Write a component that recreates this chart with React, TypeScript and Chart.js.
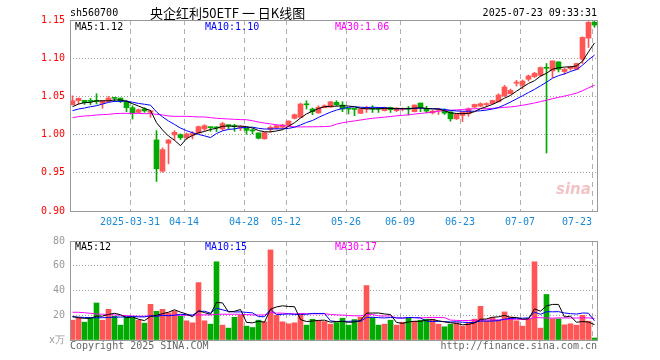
import React, { useEffect, useRef } from 'react';
import { Chart, registerables } from 'chart.js';

Chart.register(...registerables);

// ---------- data ----------
const opens = [
  1.0390, 1.0445, 1.0448, 1.0438, 1.0440, 1.0409, 1.0435, 1.0478, 1.0478, 1.0431,
  1.0352, 1.0291, 1.0335, 1.0291, 0.9930, 0.9521, 0.9887, 0.9996, 1.0000, 0.9961,
  0.9990, 1.0022, 1.0074, 1.0096, 1.0096, 1.0074, 1.0122, 1.0113, 1.0087, 1.0087,
  1.0052, 1.0022, 0.9944, 1.0066, 1.0087, 1.0096, 1.0122, 1.0213, 1.0226, 1.0394,
  1.0335, 1.0283, 1.0352, 1.0360, 1.0422, 1.0387, 1.0337, 1.0335, 1.0278, 1.0335,
  1.0337, 1.0337, 1.0313, 1.0357, 1.0313, 1.0330, 1.0337, 1.0300, 1.0413, 1.0338,
  1.0285, 1.0318, 1.0316, 1.0298, 1.0206, 1.0250, 1.0272, 1.0360, 1.0373, 1.0393,
  1.0404, 1.0430, 1.0504, 1.0535, 1.0673, 1.0645, 1.0724, 1.0759, 1.0776, 1.0872,
  1.0833, 1.0952, 1.0825, 1.0864, 1.0855, 1.0987, 1.1263, 1.1470,
];
const highs = [
  1.0508, 1.0480, 1.0450, 1.0474, 1.0535, 1.0448, 1.0500, 1.0480, 1.0480, 1.0448,
  1.0378, 1.0335, 1.0352, 1.0318, 1.0052, 0.9826, 0.9935, 1.0052, 1.0010, 1.0022,
  1.0040, 1.0113, 1.0130, 1.0100, 1.0104, 1.0160, 1.0126, 1.0135, 1.0117, 1.0090,
  1.0074, 1.0022, 1.0030, 1.0113, 1.0125, 1.0135, 1.0180, 1.0270, 1.0413, 1.0444,
  1.0348, 1.0378, 1.0390, 1.0435, 1.0444, 1.0430, 1.0337, 1.0337, 1.0340, 1.0370,
  1.0378, 1.0357, 1.0361, 1.0360, 1.0350, 1.0350, 1.0370, 1.0390, 1.0413, 1.0370,
  1.0320, 1.0342, 1.0338, 1.0300, 1.0275, 1.0300, 1.0350, 1.0400, 1.0417, 1.0417,
  1.0450, 1.0535, 1.0645, 1.0596, 1.0710, 1.0715, 1.0780, 1.0816, 1.0886, 1.0930,
  1.0965, 1.0955, 1.0868, 1.0895, 1.0935, 1.1280, 1.1480, 1.1500,
];
const lows = [
  1.0387, 1.0400, 1.0395, 1.0392, 1.0400, 1.0344, 1.0426, 1.0430, 1.0418, 1.0300,
  1.0204, 1.0280, 1.0291, 1.0227, 0.9387, 0.9508, 0.9617, 0.9930, 0.9935, 0.9939,
  0.9943, 1.0013, 1.0052, 1.0043, 1.0039, 1.0057, 1.0074, 1.0043, 1.0052, 1.0004,
  1.0009, 0.9943, 0.9940, 1.0030, 1.0070, 1.0080, 1.0109, 1.0205, 1.0222, 1.0335,
  1.0261, 1.0278, 1.0350, 1.0357, 1.0378, 1.0300, 1.0270, 1.0248, 1.0275, 1.0290,
  1.0290, 1.0290, 1.0309, 1.0290, 1.0300, 1.0310, 1.0257, 1.0296, 1.0300, 1.0285,
  1.0270, 1.0263, 1.0263, 1.0175, 1.0198, 1.0170, 1.0240, 1.0355, 1.0364, 1.0364,
  1.0400, 1.0426, 1.0500, 1.0530, 1.0636, 1.0600, 1.0700, 1.0746, 1.0759, 0.9759,
  1.0746, 1.0820, 1.0790, 1.0842, 1.0850, 1.0930, 1.1140, 1.1404,
];
const closes = [
  1.0443, 1.0475, 1.0420, 1.0435, 1.0435, 1.0444, 1.0478, 1.0474, 1.0435, 1.0352,
  1.0283, 1.0326, 1.0309, 1.0312, 0.9552, 0.9804, 0.9930, 1.0030, 0.9961, 1.0009,
  1.0015, 1.0104, 1.0117, 1.0091, 1.0087, 1.0144, 1.0117, 1.0105, 1.0104, 1.0057,
  1.0048, 0.9952, 1.0026, 1.0096, 1.0117, 1.0126, 1.0178, 1.0261, 1.0400, 1.0390,
  1.0300, 1.0357, 1.0378, 1.0430, 1.0392, 1.0335, 1.0333, 1.0330, 1.0335, 1.0357,
  1.0333, 1.0333, 1.0357, 1.0326, 1.0348, 1.0335, 1.0333, 1.0387, 1.0352, 1.0307,
  1.0307, 1.0320, 1.0281, 1.0206, 1.0268, 1.0294, 1.0338, 1.0395, 1.0404, 1.0395,
  1.0447, 1.0518, 1.0623, 1.0579, 1.0677, 1.0700, 1.0768, 1.0803, 1.0877, 1.0868,
  1.0965, 1.0855, 1.0855, 1.0890, 1.0930, 1.1272, 1.1470, 1.1434,
];
const volumes = [
  16.0, 17.9, 14.4, 18.1, 29.9, 16.0, 24.8, 19.2, 12.0, 18.7,
  18.1, 16.0, 13.6, 28.8, 23.2, 24.8, 21.9, 23.5, 19.2, 15.5,
  13.9, 46.4, 15.5, 12.8, 63.2, 12.0, 9.6, 18.4, 20.0, 11.2,
  10.1, 16.0, 14.7, 72.8, 20.0, 14.7, 13.1, 13.9, 20.8, 12.0,
  16.8, 15.7, 14.9, 12.8, 14.1, 17.6, 12.0, 16.5, 18.4, 44.0,
  18.1, 12.0, 12.8, 16.0, 12.0, 14.4, 17.9, 15.2, 16.0, 16.8,
  16.8, 12.8, 10.7, 12.8, 13.9, 11.2, 14.4, 16.8, 27.2, 15.5,
  18.1, 16.0, 22.7, 18.7, 15.5, 11.2, 17.1, 63.2, 9.6, 36.8,
  17.1, 17.1, 12.3, 13.1, 12.0, 20.0, 15.2, 1.6,
];

// moving-average values at the left edge
// (their windows reach back before the first visible day)
const ma5Head = [1.0365, 1.0400, 1.0418, 1.0422];
const ma10Head = [1.0313, 1.0335, 1.0348, 1.0365, 1.0378, 1.0400, 1.0422, 1.0435, 1.0435];
const ma30Head = [
  1.0222, 1.0235, 1.0244, 1.0248, 1.0257, 1.0261, 1.0265, 1.0274, 1.0278, 1.0278,
  1.0278, 1.0278, 1.0274, 1.0274, 1.0265, 1.0257, 1.0244, 1.0239, 1.0239, 1.0239,
  1.0235, 1.0231, 1.0231, 1.0222, 1.0213, 1.0209, 1.0204, 1.0200, 1.0196,
];
const vma5Head = [19.0, 18.0, 17.5, 17.5];
const vma10Head = [18.7, 18.5, 18.2, 18.0, 18.0, 18.0, 18.2, 18.5, 18.5];
const vma30Head = [
  22.4, 22.4, 22.0, 21.6, 21.0, 20.8, 20.6, 20.3, 20.0, 19.7,
  19.4, 19.2, 19.2, 19.5, 19.7, 19.9, 20.0, 20.0, 20.0, 20.0,
  20.0, 20.3, 20.3, 20.3, 20.8, 20.8, 20.8, 20.8, 20.8,
];

// first entry is an unlabeled anchor at the left edge of the plot
const dateTickIndex = [null, 10, 19, 29, 36, 46, 55, 65, 75, 87];
const dateTickLabels = ['', '2025-03-31', '04-14', '04-28', '05-12', '05-26', '06-09', '06-23', '07-07', '07-23'];
const priceTicks = [0.9, 0.95, 1.0, 1.05, 1.1, 1.15];
const volumeTicks = [0, 20, 40, 60, 80];
const volumeTickLabels = ['x万', '20', '40', '60', '80'];

// ---------- styles ----------
const UP = '#ff5555';
const DOWN = '#00aa00';
const MA5C = '#000000';
const MA10C = '#0000ff';
const MA30C = '#ff00ff';
const MONO = '"DejaVu Sans Mono", "Liberation Mono", monospace';
const SHIFT = 0.4167; // day i is drawn at pixel 72.5 + 6*i
const PLOT_W = 527;

function movingAvg(src: number[], n: number, head: number[]) {
  return src.map((_, i) => {
    if (i < n - 1) return head[i];
    let s = 0;
    for (let k = i - n + 1; k <= i; k++) s += src[k];
    return s / n;
  });
}

const colors = closes.map((c, i) => (c > opens[i] ? UP : DOWN));

const framePlugin = {
  id: 'frame',
  afterDraw(chart: any) {
    const { ctx, chartArea } = chart;
    const { left, top, right, bottom } = chartArea;
    ctx.save();
    ctx.strokeStyle = '#999999';
    ctx.lineWidth = 1;
    ctx.strokeRect(left + 0.5, top + 0.5, right - left, bottom - top);
    ctx.restore();
  },
};

function xScale(showLabels: boolean) {
  return {
    type: 'linear',
    min: -SHIFT,
    max: -SHIFT + PLOT_W / 6,
    bounds: 'data',
    offset: false,
    afterBuildTicks: (s: any) => {
      s.ticks = dateTickIndex.map((i) => ({ value: i === null ? -SHIFT : i - SHIFT }));
    },
    afterFit: (s: any) => {
      s.height = showLabels ? 19 : 0;
    },
    ticks: {
      display: showLabels,
      autoSkip: false,
      maxRotation: 0,
      minRotation: 0,
      padding: 5,
      align: 'inner',
      color: '#1a8ad4',
      font: { family: MONO, size: 10 },
      callback: (_v: any, idx: number) => dateTickLabels[idx],
    },
    grid: {
      color: (ctx: any) => (ctx.index === 0 ? 'rgba(0,0,0,0)' : '#b0b0b0'),
      drawTicks: false,
      offset: false,
      lineWidth: 1,
    },
    border: { display: false, dash: [5, 4] },
  };
}

function lineDs(values: number[], color: string) {
  return {
    type: 'line',
    data: values.map((y, i) => ({ x: i, y })),
    borderColor: color,
    borderWidth: 1,
    pointRadius: 0,
    tension: 0,
    order: 0,
  };
}

function PriceChart() {
  const ref = useRef<HTMLCanvasElement>(null);
  useEffect(() => {
    const ma5 = movingAvg(closes, 5, ma5Head);
    const ma10 = movingAvg(closes, 10, ma10Head);
    const ma30 = movingAvg(closes, 30, ma30Head);
    const chart = new Chart(ref.current as HTMLCanvasElement, {
      type: 'bar',
      data: {
        datasets: [
          {
            type: 'bar',
            data: closes.map((_, i) => ({ x: i, y: [lows[i], highs[i]] })),
            backgroundColor: colors,
            barThickness: 1,
            grouped: false,
            order: 3,
          },
          {
            type: 'bar',
            data: closes.map((c, i) => ({ x: i, y: [opens[i], c] })),
            backgroundColor: colors,
            barThickness: 5,
            minBarLength: 1,
            grouped: false,
            order: 2,
          },
          lineDs(ma5, MA5C),
          lineDs(ma10, MA10C),
          lineDs(ma30, MA30C),
        ] as any,
      },
      options: {
        animation: false,
        responsive: false,
        events: [],
        layout: { padding: { left: 0, right: 63, top: 20, bottom: 0 }, autoPadding: false },
        plugins: { legend: { display: false }, tooltip: { enabled: false } },
        scales: {
          x: xScale(true) as any,
          y: {
            min: 0.9,
            max: 1.15,
            afterBuildTicks: (s: any) => {
              s.ticks = priceTicks.map((v) => ({ value: v }));
            },
            afterFit: (s: any) => {
              s.width = 70;
            },
            ticks: {
              padding: 5,
              color: '#ff0000',
              font: { family: MONO, size: 10 },
              callback: (v: any) => Number(v).toFixed(2),
            },
            grid: {
              color: (ctx: any) =>
                ctx.index === 0 || ctx.index === priceTicks.length - 1 ? 'rgba(0,0,0,0)' : '#a0a0a0',
              drawTicks: false,
            },
            border: { display: false, dash: [1, 2] },
          },
        },
      },
      plugins: [framePlugin],
    });
    return () => chart.destroy();
  }, []);
  return <canvas ref={ref} width={660} height={230} style={{ display: 'block' }} />;
}

function VolumeChart() {
  const ref = useRef<HTMLCanvasElement>(null);
  useEffect(() => {
    const v5 = movingAvg(volumes, 5, vma5Head);
    const v10 = movingAvg(volumes, 10, vma10Head);
    const v30 = movingAvg(volumes, 30, vma30Head);
    const chart = new Chart(ref.current as HTMLCanvasElement, {
      type: 'bar',
      data: {
        datasets: [
          {
            type: 'bar',
            data: volumes.map((v, i) => ({ x: i, y: v })),
            backgroundColor: colors,
            barThickness: 5,
            grouped: false,
            order: 2,
          },
          lineDs(v5, MA5C),
          lineDs(v10, MA10C),
          lineDs(v30, MA30C),
        ] as any,
      },
      options: {
        animation: false,
        responsive: false,
        events: [],
        layout: { padding: { left: 0, right: 63, top: 10, bottom: 20 }, autoPadding: false },
        plugins: { legend: { display: false }, tooltip: { enabled: false } },
        scales: {
          x: xScale(false) as any,
          y: {
            min: 0,
            max: 80,
            afterBuildTicks: (s: any) => {
              s.ticks = volumeTicks.map((v) => ({ value: v }));
            },
            afterFit: (s: any) => {
              s.width = 70;
            },
            ticks: {
              padding: 5,
              color: '#999999',
              font: { family: MONO, size: 10 },
              callback: (_v: any, idx: number) => volumeTickLabels[idx],
            },
            grid: {
              color: (ctx: any) =>
                ctx.index === 0 || ctx.index === volumeTicks.length - 1 ? 'rgba(0,0,0,0)' : '#a0a0a0',
              drawTicks: false,
            },
            border: { display: false, dash: [1, 2] },
          },
        },
      },
      plugins: [framePlugin],
    });
    return () => chart.destroy();
  }, []);
  return <canvas ref={ref} width={660} height={130} style={{ display: 'block' }} />;
}

const txt = (extra: React.CSSProperties): React.CSSProperties => ({
  position: 'absolute',
  font: `10px ${MONO}`,
  lineHeight: '12px',
  whiteSpace: 'pre',
  ...extra,
});

export default function App() {
  return (
    <div style={{ position: 'absolute', left: 0, top: 0, width: 660, height: 360, background: '#fff', overflow: 'hidden' }}>
      <div style={{ position: 'absolute', left: 0, top: 0 }}>
        <PriceChart />
      </div>
      <div style={{ position: 'absolute', left: 0, top: 230 }}>
        <VolumeChart />
      </div>
      <div style={txt({ left: 70, top: 7, color: '#000' })}>sh560700</div>
      <div
        style={{
          position: 'absolute',
          left: 150,
          top: 4,
          font: '13px "Noto Sans CJK SC", sans-serif',
          lineHeight: '17px',
          whiteSpace: 'pre',
          color: '#000',
        }}
      >
        央企红利50ETF 一 日K线图
      </div>
      <div style={txt({ right: 63, top: 7, color: '#000' })}>2025-07-23 09:33:31</div>

      <div style={txt({ left: 75, top: 21, color: MA5C })}>MA5:1.12</div>
      <div style={txt({ left: 205, top: 21, color: MA10C })}>MA10:1.10</div>
      <div style={txt({ left: 335, top: 21, color: MA30C })}>MA30:1.06</div>

      <div style={txt({ left: 75, top: 241, color: MA5C })}>MA5:12</div>
      <div style={txt({ left: 205, top: 241, color: MA10C })}>MA10:15</div>
      <div style={txt({ left: 335, top: 241, color: MA30C })}>MA30:17</div>

      <div
        style={{
          position: 'absolute',
          left: 556,
          top: 180,
          font: 'italic bold 15px "DejaVu Sans", sans-serif',
          color: '#f2c4c4',
          whiteSpace: 'pre',
        }}
      >
        sina
      </div>

      <div style={txt({ left: 70, top: 340, color: '#666' })}>Copyright 2025 SINA.COM</div>
      <div style={txt({ right: 63, top: 340, color: '#666' })}>http://finance.sina.com.cn</div>
    </div>
  );
}
